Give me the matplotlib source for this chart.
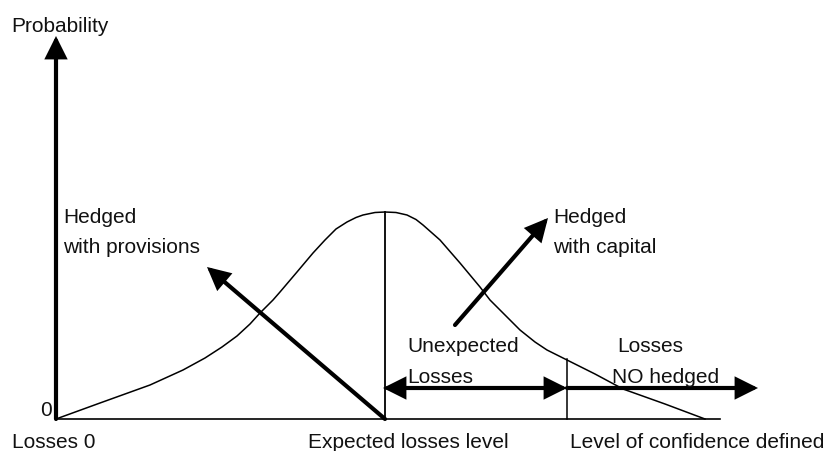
import matplotlib.pyplot as plt
from matplotlib.patches import FancyArrowPatch

plt.rcParams['font.family'] = ['Liberation Sans', 'DejaVu Sans']

# loss distribution curve (pixel-like coordinates, y grows downward)
curve_x = [56, 100, 150, 183, 205, 222, 237, 250, 260, 273, 280, 297, 313, 325, 336, 347, 356, 363, 375, 385,
           396, 407, 416, 423, 440, 460, 480, 490, 505, 520, 535, 547, 567, 595, 623, 665, 705]
curve_y = [419, 403, 385, 370, 358, 347, 336, 324, 313, 300, 292, 272, 253, 240, 229, 222, 217.5, 215, 212.5, 212,
           212.5, 215, 219.5, 225, 240, 263, 287, 300, 315, 330, 342, 350, 360, 374, 389, 404, 419]

origin = (56, 419)
x_end = 720
y_top = 36
expected_x = 385
peak_y = 212
confidence_x = 567
confidence_top = 359
band_y = 388
band_end = 758

provisions_arrow = [(385, 419), (207, 267)]
capital_arrow = [(455, 325), (548, 218)]

labels = [
    ("Probability", 11, 32),
    ("Losses 0", 12, 448),
    ("Expected losses level", 308, 448),
    ("Level of confidence defined", 570, 448),
    ("Hedged", 63, 223),
    ("with provisions", 63, 253),
    ("Hedged", 553, 223),
    ("with capital", 553, 253),
    ("Unexpected", 407, 352),
    ("Losses", 407, 383),
    ("Losses", 617, 352),
    ("NO hedged", 612, 383),
]

fig = plt.figure(figsize=(8.24, 4.51), dpi=100)
ax = fig.add_axes([0, 0, 1, 1])
ax.set_xlim(0, 824)
ax.set_ylim(451, 0)
ax.axis('off')

def arrow(p0, p1, style='-|>', lw=3):
    a = FancyArrowPatch(p0, p1, arrowstyle=style + ',head_length=0.8,head_width=0.4',
                        mutation_scale=15, lw=lw, color='black',
                        shrinkA=0, shrinkB=0, joinstyle='miter')
    ax.add_patch(a)

# axes
ax.plot([origin[0], x_end], [origin[1], origin[1]], color='black', lw=1.2)
arrow(origin, (origin[0], y_top), lw=3)
ax.text(52, 416, "0", fontsize=15, ha='right', va='baseline', color='#111111')

# curve and verticals
ax.plot(curve_x, curve_y, color='black', lw=1.1, solid_joinstyle='round')
ax.plot([expected_x, expected_x], [origin[1], peak_y], color='black', lw=1.3)
ax.plot([confidence_x, confidence_x], [origin[1], confidence_top], color='black', lw=1.1)

# arrows
arrow(*provisions_arrow)
arrow(*capital_arrow)
arrow((expected_x - 2, band_y), (confidence_x, band_y), style='<|-|>')
arrow((confidence_x, band_y), (band_end, band_y))

for txt, x, y in labels:
    ax.text(x, y, txt, fontsize=15, ha='left', va='baseline', color='#111111')

fig.savefig('out.png', dpi=100)
